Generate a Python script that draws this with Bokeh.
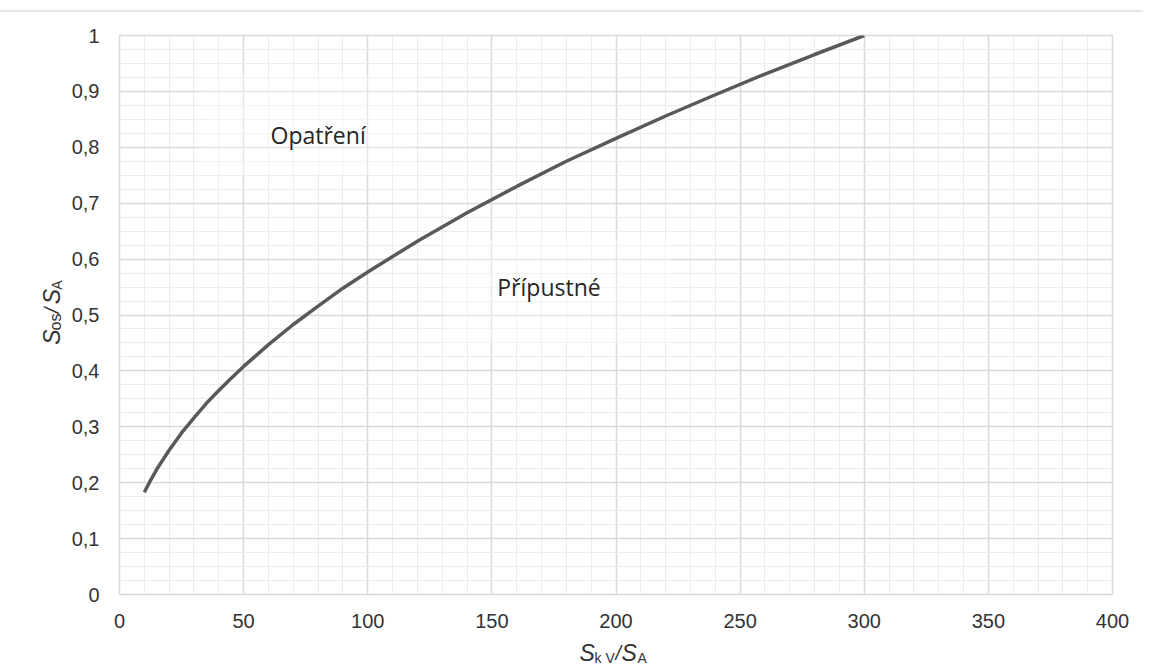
import math
from bokeh.plotting import figure
from bokeh.models import (Range1d, SingleIntervalTicker, CustomJSTickFormatter,
                          Label, Div)
from bokeh.layouts import column, row
from bokeh.embed import file_html
from bokeh.resources import INLINE

# ---- data ----
ratio_kv = [10, 12, 15, 20, 25, 30, 35, 40, 45, 50, 60, 70, 80, 90, 100,
            120, 140, 160, 180, 200, 220, 240, 260, 280, 300]
ratio_os = [0.183, 0.200, 0.224, 0.258, 0.289, 0.316, 0.342, 0.365, 0.387,
            0.408, 0.447, 0.483, 0.516, 0.548, 0.577, 0.632, 0.683, 0.730,
            0.775, 0.816, 0.856, 0.894, 0.931, 0.966, 1.0]
region_names = ["Opatření", "Přípustné"]
region_x = [80, 173]
region_y = [0.822, 0.55]
region_box_left = [33, 131]
region_box_right = [119, 222]
region_box_top = [0.93, 0.635]
region_box_bottom = [0.75, 0.45]

# ---- layout geometry (page pixels) ----
TOP = 12            # strip with the thin top rule
YW = 66             # strip holding the vertical axis title
TOTAL_W = 1145
FRAME_L, FRAME_T, FRAME_W, FRAME_H = 119, 35, 993, 562
MAIN_H = 618        # main figure height (from y=TOP)
XT_H = 36           # strip holding the horizontal axis title
MAIN_W = TOTAL_W - YW

p = figure(width=MAIN_W, height=MAIN_H, output_backend="svg",
           toolbar_location=None,
           x_range=Range1d(0, 400), y_range=Range1d(0, 1),
           min_border_left=FRAME_L - YW,
           min_border_right=MAIN_W - (FRAME_L - YW) - FRAME_W,
           min_border_top=FRAME_T - TOP,
           min_border_bottom=MAIN_H - (FRAME_T - TOP) - FRAME_H)
p.background_fill_color = "white"
p.border_fill_color = "white"
p.outline_line_color = "#d9d9d9"
p.outline_line_width = 1.5

p.xaxis.ticker = SingleIntervalTicker(interval=50, num_minor_ticks=5)
p.yaxis.ticker = SingleIntervalTicker(interval=0.1, num_minor_ticks=4)
p.yaxis.formatter = CustomJSTickFormatter(code="""
    var v = Math.round(tick*10)/10;
    if (v == 0 || v == 1) return v.toFixed(0);
    return v.toFixed(1).replace('.', ',');
""")
for ax in (p.xaxis[0], p.yaxis[0]):
    ax.axis_line_color = None
    ax.major_tick_line_color = None
    ax.minor_tick_line_color = None
    ax.major_label_text_font = "Liberation Sans"
    ax.major_label_text_font_size = "20px"
    ax.major_label_text_color = "#333333"
p.xaxis.major_label_standoff = 13
p.yaxis.major_label_standoff = 14

for g in (p.xgrid[0], p.ygrid[0]):
    g.grid_line_color = "#d9d9d9"
    g.grid_line_width = 1.5
    g.minor_grid_line_color = "#ececec"
    g.minor_grid_line_width = 1

# translucent text boxes
p.quad(left=region_box_left, right=region_box_right, top=region_box_top,
       bottom=region_box_bottom, fill_color="white", fill_alpha=0.35,
       line_color=None)

p.line(ratio_kv, ratio_os, line_color="#595959", line_width=3.5)

for name, x, y in zip(region_names, region_x, region_y):
    p.add_layout(Label(x=x, y=y, text=name, text_align="center",
                       text_baseline="middle", text_font="Open Sans",
                       text_font_size="23px", text_color="#262626"))


# ---- small blank figures that carry the axis titles ----
def blank_fig(w, h):
    f = figure(width=w, height=h, output_backend="svg", toolbar_location=None,
               x_range=Range1d(0, w), y_range=Range1d(0, h),
               min_border=0, min_border_left=0, min_border_right=0,
               min_border_top=0, min_border_bottom=0)
    f.axis.visible = False
    f.grid.visible = False
    f.outline_line_color = None
    f.background_fill_color = "white"
    f.border_fill_color = "white"
    return f


yt = blank_fig(YW, MAIN_H)
xt = blank_fig(TOTAL_W, XT_H)


def piece(fig, x0, y0, h, text, px, py, size, italic=False, angle=0.0):
    fig.add_layout(Label(x=px - x0, y=(y0 + h) - py, text=text, angle=angle,
                         text_align="left", text_baseline="alphabetic",
                         text_font="Liberation Sans",
                         text_font_style="italic" if italic else "normal",
                         text_font_size=size, text_color="#333333"))


XT_Y0 = TOP + MAIN_H
SH = 8  # empirical baseline correction
# x title: S_kV / S_A
piece(xt, 0, XT_Y0, XT_H, "S", 579, 660 - SH, "23px", italic=True)
piece(xt, 0, XT_Y0, XT_H, "k V", 594, 665 - SH, "14px")
piece(xt, 0, XT_Y0, XT_H, "/", 615, 660 - SH, "20px", italic=True)
piece(xt, 0, XT_Y0, XT_H, "S", 621, 660 - SH, "23px", italic=True)
piece(xt, 0, XT_Y0, XT_H, "A", 637, 665 - SH, "14px")

# y title (rotated): S_os / S_A, reading bottom to top
A90 = math.pi / 2
piece(yt, 0, TOP, MAIN_H, "S", 59 - SH, 354, "23px", italic=True, angle=A90)
piece(yt, 0, TOP, MAIN_H, "os", 63 - SH, 338, "16px", angle=A90)
piece(yt, 0, TOP, MAIN_H, "/", 59 - SH, 319, "20px", italic=True, angle=A90)
piece(yt, 0, TOP, MAIN_H, "S", 59 - SH, 309, "23px", italic=True, angle=A90)
piece(yt, 0, TOP, MAIN_H, "A", 64 - SH, 293, "14px", angle=A90)

top_line = Div(text='<div style="margin-top:8px;border-top:2px solid #e4e4e4;'
                    'width:1143px;height:0px"></div>',
               width=TOTAL_W, height=TOP, styles={"margin": "0px"})

layout = column(top_line, row(yt, p, spacing=0), xt, spacing=0)

with open("out.html", "w") as f:
    f.write(file_html(layout, INLINE))
